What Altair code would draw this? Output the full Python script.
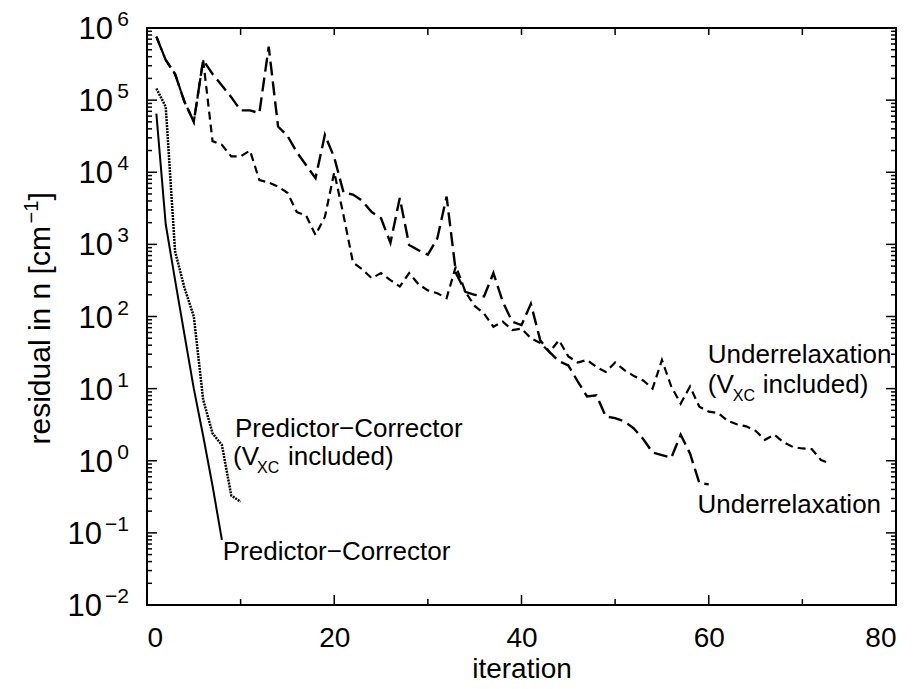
import altair as alt
import pandas as pd

# ---- convergence data: residual in n [cm^-1] per iteration ----
pc_iter = [1, 2, 3, 4, 5, 6, 7, 8]
pc_res = [6.5e4, 1.9e3, 320, 56, 10, 2.2, 0.45, 0.08]

pcxc_iter = list(range(1, 11))
pcxc_res = [1.45e5, 8.1e4, 800, 250, 100, 7.0, 2.4, 1.65, 0.33, 0.27]

ur_iter = list(range(1, 61))
ur_res = [7.6e5, 3.6e5, 2.3e5, 9.5e4, 5.0e4, 3.6e5, 2.3e5, 1.6e5, 1.1e5, 7.2e4,
          7.2e4, 6.6e4, 5.5e5, 4.3e4, 3.2e4, 1.9e4, 1.25e4, 8.3e3, 3.3e4, 1.6e4,
          5.2e3, 4.9e3, 4.0e3, 2.8e3, 2.3e3, 1.05e3, 4.4e3, 980, 830, 720,
          1.2e3, 4.6e3, 400, 220, 200, 190, 400, 160, 85, 76,
          150, 47, 32, 24, 21, 12.6, 7.8, 8.1, 4.1, 3.9,
          3.5, 2.8, 2.0, 1.3, 1.2, 1.1, 2.3, 1.26, 0.49, 0.47]

urxc_iter = list(range(1, 74))
urxc_res = [7.6e5, 3.6e5, 2.3e5, 9.5e4, 5.0e4, 3.6e5, 2.7e4, 2.4e4, 1.66e4, 1.66e4,
            2.0e4, 7.8e3, 7.2e3, 6.3e3, 5.2e3, 2.8e3, 2.5e3, 1.35e3, 2.4e3, 1.0e4,
            2.5e3, 560, 450, 340, 400, 320, 260, 400, 280, 230,
            210, 180, 500, 220, 140, 110, 72, 85, 65, 68,
            50, 43, 32, 47, 28, 23, 25, 20, 17, 23,
            18, 15, 13, 10, 25, 10.7, 6.2, 10.7, 5.6, 4.8,
            4.6, 3.6, 3.2, 3.0, 2.6, 1.95, 2.3, 1.8, 1.55, 1.48,
            1.45, 1.02, 0.91]

# ---- axis ticks and labels ----
x_labels = [0, 20, 40, 60, 80]
x_major = [20, 40, 60]
x_minor = [10, 30, 50, 70]
x_top = [10, 20, 30, 40, 50, 60, 70]
y_decades = [1e-2, 1e-1, 1e0, 1e1, 1e2, 1e3, 1e4, 1e5, 1e6]
y_exponents = ["\u22122", "\u22121", "0", "1", "2", "3", "4", "5", "6"]
y_minor = [m * 10.0 ** k for k in range(-2, 6) for m in range(2, 10)]

W, H = 749, 577
FONT = "Liberation Sans"

xs = alt.Scale(domain=[0, 80], nice=False, zero=False)
ys = alt.Scale(type="log", domain=[1e-2, 1e6], nice=False)

x_axis = alt.Axis(values=x_labels, ticks=False, domain=False, grid=False,
                  labelFontSize=28, labelFont=FONT, labelPadding=19, labelColor="black",
                  title="iteration", titleFontSize=28, titleFont=FONT,
                  titleFontWeight="normal", titleColor="black",
                  titleY=72, titleBaseline="alphabetic")
y_axis = alt.Axis(values=y_decades, ticks=False, domain=False, grid=False,
                  labels=False, title=None)


def X(field):
    return alt.X(field, scale=xs, axis=x_axis)


def Y(field):
    return alt.Y(field, scale=ys, axis=y_axis)


def series(it, res, dash, width):
    df = pd.DataFrame({"iteration": it, "residual": res})
    props = dict(color="black", strokeWidth=width, clip=True)
    if dash:
        props["strokeDash"] = dash
    return alt.Chart(df).mark_line(**props).encode(
        x=X("iteration:Q"), y=Y("residual:Q"))


lines = [
    series(pc_iter, pc_res, None, 2),
    series(pcxc_iter, pcxc_res, [2, 1], 2.5),
    series(ur_iter, ur_res, [14, 6], 2.4),
    series(urxc_iter, urxc_res, [8, 5], 2.2),
]


def yticks(vals, x0, x1):
    return alt.Chart(pd.DataFrame({"residual": vals})).mark_rule(
        color="black", strokeWidth=1.5).encode(
        y=Y("residual:Q"), x=alt.value(x0), x2=alt.value(x1))


def xticks(vals, y0, y1):
    return alt.Chart(pd.DataFrame({"iteration": vals})).mark_rule(
        color="black", strokeWidth=1.5).encode(
        x=X("iteration:Q"), y=alt.value(y0), y2=alt.value(y1))


ticks = [
    yticks(y_decades, 0, 10), yticks(y_minor, 0, 5),
    yticks(y_decades, W, W - 10), yticks(y_minor, W, W - 5),
    xticks(x_major, H, H - 10), xticks(x_minor, H, H - 6),
    xticks(x_top, 0, 7),
]

# decade labels written as 10 with a raised exponent
dec = pd.DataFrame({"residual": y_decades, "e": y_exponents})
dec["neg"] = dec["residual"] < 1


def ylab(df, text, x, size, dy):
    return alt.Chart(df).mark_text(align="right", baseline="alphabetic", font=FONT,
                                   fontSize=size, dy=dy, color="black").encode(
        y=Y("residual:Q"), x=alt.value(x), text=text)


ylabels = [
    ylab(dec[~dec["neg"]].assign(b="10"), "b:N", -34, 31, 11),
    ylab(dec[dec["neg"]].assign(b="10"), "b:N", -45, 31, 11),
    ylab(dec, "e:N", -18, 21, -2),
]


# vertical axis title, with a full-size exponent on the unit
def ytitle(text, size, dx, dy):
    return alt.Chart(pd.DataFrame({"t": [text]})).mark_text(
        align="left", baseline="alphabetic", angle=270, font=FONT, fontSize=size,
        dx=dx, dy=dy, color="black").encode(
        x=alt.value(-97), y=alt.value(H / 2 + 128), text="t:N")


ytitles = [
    ytitle("residual in n [cm", 30, 0, 0),
    ytitle("\u22121", 20, 221, -12),
    ytitle("]", 30, 244, 0),
]


def label(text, it, res, size=26, dx=0, dy=0):
    df = pd.DataFrame({"iteration": [it], "residual": [res], "t": [text]})
    return alt.Chart(df).mark_text(align="left", baseline="alphabetic", font=FONT,
                                   fontSize=size, dx=dx, dy=dy, color="black").encode(
        x=X("iteration:Q"), y=Y("residual:Q"), text="t:N")


notes = [
    label("Predictor\u2212Corrector", 9.4, 2.12),
    label("(V", 9.19, 0.87),
    label("XC", 9.19, 0.87, size=16, dx=24, dy=8),
    label("included)", 9.19, 0.87, dx=55),
    label("Predictor\u2212Corrector", 8.09, 0.0417),
    label("Underrelaxation", 59.9, 22.4),
    label("(V", 59.9, 8.7),
    label("XC", 59.9, 8.7, size=16, dx=25, dy=8),
    label("included)", 59.9, 8.7, dx=55),
    label("Underrelaxation", 58.8, 0.186),
]

chart = alt.layer(*lines, *ticks, *ylabels, *ytitles, *notes).properties(
    width=W, height=H,
    padding={"left": 147, "top": 28, "right": 18, "bottom": 84},
    autosize=alt.AutoSizeParams(type="none"),
    background="white",
).configure_view(stroke="black", strokeWidth=2)

chart.save("out.html", embed_options={"renderer": "svg", "actions": False})
